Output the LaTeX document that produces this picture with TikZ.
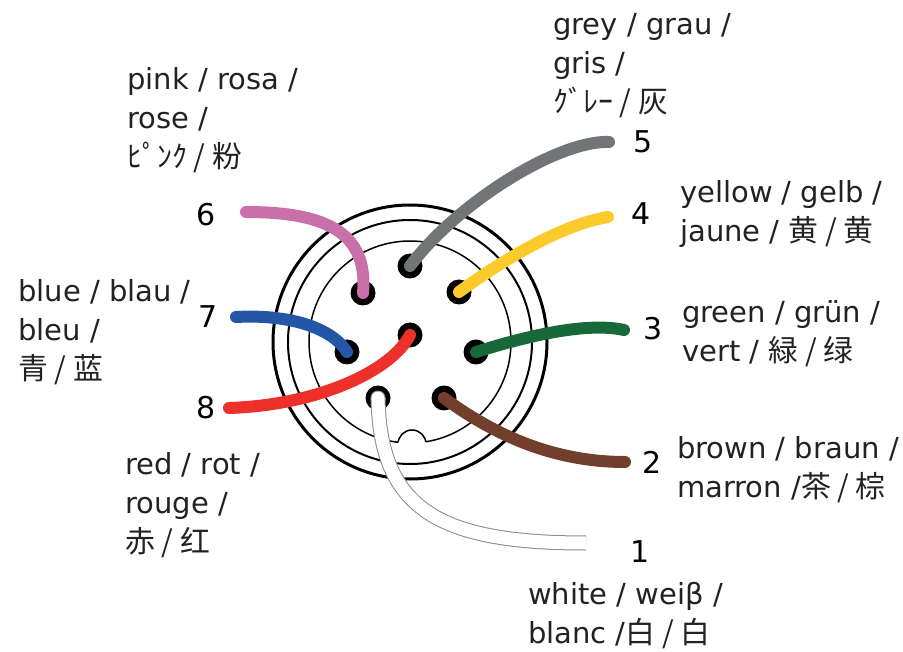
\documentclass[tikz,border=0pt]{standalone}
\usepackage{fontspec}
\setmainfont{DejaVu Sans}
\newfontfamily\cjk[Scale=1.03]{Noto Sans CJK JP}
\definecolor{cgrey}{HTML}{717575}
\definecolor{cpink}{HTML}{C970AA}
\definecolor{cyellow}{HTML}{FBCB2C}
\definecolor{cblue}{HTML}{2356A6}
\definecolor{cred}{HTML}{EE302B}
\definecolor{cgreen}{HTML}{17693A}
\definecolor{cbrown}{HTML}{723F2C}
\definecolor{cwedge}{HTML}{8A8C8C}
\definecolor{txt}{HTML}{222222}
\begin{document}
\begin{tikzpicture}[x=1pt,y=-1pt,
  wire/.style={line width=12pt,line cap=round},
  pinhole/.style={circle,fill=black,minimum size=25pt,inner sep=0pt},
  num/.style={font=\fontsize{30}{39}\selectfont,inner sep=0pt,text=black},
  lbl/.style={font=\fontsize{29}{39}\selectfont,inner sep=0pt,align=left,anchor=base west,text=txt}]
\useasboundingbox (0,0) rectangle (903,652);
\coordinate (c) at (410,342);
% housing
\draw[line width=3pt] (c) circle[radius=137];
\draw[line width=2pt] (c) circle[radius=122];
\draw[line width=1.5pt] (c) circle[radius=101];
\fill[white] (412,444) circle[radius=14];
\begin{scope}
  \clip (c) circle[radius=101];
  \draw[line width=1.5pt] (412,444) circle[radius=14];
\end{scope}
% pins
\node[pinhole] (p1) at (378,398) {};
\node[pinhole] (p2) at (444,398) {};
\node[pinhole] (p3) at (476,352) {};
\node[pinhole] (p4) at (459,292) {};
\node[pinhole] (p5) at (410,266) {};
\node[pinhole] (p6) at (363,293) {};
\node[pinhole] (p7) at (347,352) {};
\node[pinhole] (p8) at (410,335) {};
% free wire ends
\coordinate (e1) at (586,543);
\coordinate (e2) at (625,462);
\coordinate (e3) at (624,330);
\coordinate (e4) at (608,217);
\coordinate (e5) at (609,142);
\coordinate (e6) at (246,212);
\coordinate (e7) at (236,317);
\coordinate (e8) at (229,408);
% wires
\draw[wire,cgrey] (p5.center) .. controls (460,200) and (560,140) .. (e5);
\draw[wire,cpink] (e6) .. controls (330,212) and (368,235) .. (p6.center);
\draw[wire,cyellow] (p4.center) .. controls (500,262) and (560,225) .. (e4);
\draw[wire,cblue] (e7) .. controls (290,314) and (332,328) .. (p7.center);
\draw[wire,cred] (e8) .. controls (320,405) and (392,370) .. (p8.center);
\draw[wire,cgreen] (p3.center) .. controls (530,335) and (588,322) .. (e3);
\draw[wire,cbrown] (p2.center) .. controls (490,432) and (550,462) .. (e2);
% white wire
\fill[cwedge] (p1.center) circle[radius=7.5];
\draw[line width=15pt,cwedge] (p1.center) .. controls (380,510) and (440,543) .. (e1);
\fill[white] (p1.center) circle[radius=6.5];
\draw[line width=13pt,white] (p1.center) .. controls (380,510) and (440,543) .. (e1);
% numbers
\node[num] (n1) at (640,552) {1};
\node[num] (n2) at (652,462) {2};
\node[num] (n3) at (653,329) {3};
\node[num] (n4) at (641,214) {4};
\node[num] (n5) at (643,142) {5};
\node[num] (n6) at (206,215) {6};
\node[num] (n7) at (208,317) {7};
\node[num] (n8) at (206,408) {8};
% labels (anchor = baseline of last line)
\node[lbl] (l5) at (553,113) {grey / grau /\\gris /\\{\cjk ｸﾞﾚｰ / 灰}};
\node[lbl] (l6) at (127,168) {pink / rosa /\\rose /\\{\cjk ﾋﾟﾝｸ / 粉}};
\node[lbl] (l7) at (18,380) {blue / blau /\\bleu /\\{\cjk 青 / 蓝}};
\node[lbl] (l8) at (125,552) {red / rot /\\rouge /\\{\cjk 赤 / 红}};
\node[lbl] (l4) at (680,242) {yellow / gelb /\\jaune / {\cjk 黄 / 黄}};
\node[lbl] (l3) at (682,362) {green / grün /\\vert / {\cjk 緑 / 绿}};
\node[lbl] (l2) at (677,497) {brown / braun /\\marron /{\cjk 茶 / 棕}};
\node[lbl] (l1) at (528,643) {white / weiβ /\\blanc /{\cjk 白 / 白}};
\end{tikzpicture}
\end{document}
